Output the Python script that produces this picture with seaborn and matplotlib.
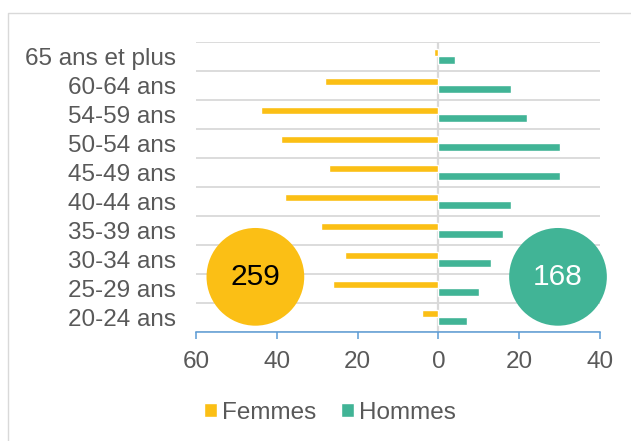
import pandas as pd
import matplotlib.pyplot as plt
import matplotlib.lines as mlines
import numpy as np
import seaborn as sns

age_groups = ['65 ans et plus', '60-64 ans', '54-59 ans', '50-54 ans', '45-49 ans',
              '40-44 ans', '35-39 ans', '30-34 ans', '25-29 ans', '20-24 ans']
femmes = [1, 28, 44, 39, 27, 38, 29, 23, 26, 4]
hommes = [4, 18, 22, 30, 30, 18, 16, 13, 10, 7]
x_ticks = [-60, -40, -20, 0, 20, 40]

yellow = '#FBBF15'
green = '#41B496'
grey_text = '#595959'
grid_grey = '#D9D9D9'
axis_blue = '#5B9BD5'


def plot_pyramid():
    # Long form, women on the negative side
    df = pd.DataFrame({'age': age_groups * 2,
                       'sexe': ['Femmes'] * len(age_groups) + ['Hommes'] * len(age_groups),
                       'n': [-v for v in femmes] + hommes})

    sns.set_style('white')
    plt.rcParams['font.family'] = ['Liberation Sans', 'DejaVu Sans']

    fig = plt.figure(figsize=(6.31, 4.41), dpi=100)
    ax = fig.add_axes([0.3106, 0.2472, 0.6403, 0.6582])

    sns.barplot(data=df, x='n', y='age', hue='sexe', order=age_groups,
                hue_order=['Femmes', 'Hommes'], palette=[yellow, green],
                orient='h', width=0.52, gap=0, saturation=1, ax=ax, zorder=3)

    ax.set_xlim(-60, 40)
    ax.set_ylim(len(age_groups) - 0.5, -0.5)
    ax.set_xticks(x_ticks)
    ax.set_xticklabels([str(abs(t)) for t in x_ticks])
    ax.set_xlabel('')
    ax.set_ylabel('')

    # Gridlines between categories
    ax.set_yticks(np.arange(-0.5, len(age_groups) - 0.4, 1.0), minor=True)
    ax.grid(True, which='minor', axis='y', color=grid_grey, lw=1.3, zorder=0)
    ax.grid(False, which='major')
    ax.axvline(0, color=grid_grey, lw=1.6, zorder=2)

    for side in ['top', 'right', 'left']:
        ax.spines[side].set_visible(False)
    ax.spines['bottom'].set_color(axis_blue)
    ax.spines['bottom'].set_linewidth(1.1)
    ax.spines['bottom'].set_zorder(4)

    ax.tick_params(axis='x', bottom=True, direction='out', length=5, width=1.1,
                   color=axis_blue, labelsize=17.5, labelcolor=grey_text, pad=9)
    ax.tick_params(axis='y', which='both', left=False, labelsize=17.5,
                   labelcolor=grey_text, pad=11)

    # Totals in circles
    ax.scatter([-45.3, 29.6], [7.6, 7.6], s=4950, c=[yellow, green],
               zorder=5, clip_on=False, linewidths=0)
    ax.text(-45.3, 7.6, str(sum(femmes)), ha='center', va='center',
            fontsize=21.5, color='black', zorder=6)
    ax.text(29.6, 7.6, str(sum(hommes)), ha='center', va='center',
            fontsize=21.5, color='white', zorder=6)

    handles, labels = ax.get_legend_handles_labels()
    ax.legend(handles, labels, loc='center', bbox_to_anchor=(0.523, 0.064),
              bbox_transform=fig.transFigure, ncol=2, frameon=False,
              fontsize=17.5, labelcolor=grey_text, handlelength=0.55,
              handleheight=0.55, handletextpad=0.2, columnspacing=1.0)

    # Chart frame (only left and top visible in the crop)
    y_top = 1 - 12.5 / 441
    x_left = 8 / 631
    fig.add_artist(mlines.Line2D([x_left, x_left, 1], [0, y_top, y_top],
                                 transform=fig.transFigure, color=grid_grey, lw=1))

    fig.savefig('out.png', dpi=100, facecolor='white')


plot_pyramid()
